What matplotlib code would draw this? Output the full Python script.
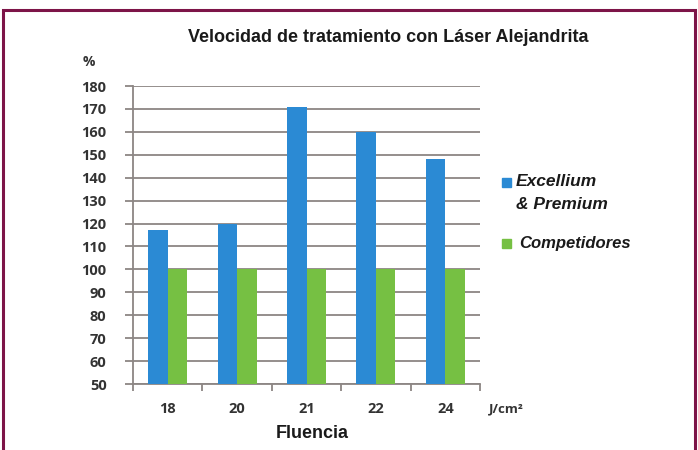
import matplotlib.pyplot as plt
from matplotlib.patches import Rectangle

# Datos
fluencias = ['18', '20', '21', '22', '24']
excellium = [117, 120, 171, 160, 148]
competidores = [100, 100, 100, 100, 100]

azul = '#2b8ad4'
verde = '#76c043'
granate = '#7d1448'
gris = '#8c8684'

fig = plt.figure(figsize=(6.98, 4.5), dpi=100)
fig.patch.set_facecolor('white')

# marco granate
fig.patches.append(Rectangle((3 / 698, -0.05), 692 / 698, 1 - 10 / 450 + 0.05,
                             transform=fig.transFigure, fill=False,
                             edgecolor=granate, linewidth=2.2))

ax = fig.add_axes([133 / 698, 1 - 384 / 450, (480 - 133) / 698, (384 - 86) / 450])

x = list(range(len(fluencias)))
ancho = 0.28
ax.bar([i - ancho / 2 for i in x], excellium, width=ancho, color=azul, zorder=3)
ax.bar([i + ancho / 2 for i in x], competidores, width=ancho, color=verde, zorder=3)

ax.set_xlim(-0.5, len(fluencias) - 0.5)
ax.set_ylim(50, 180)
ax.set_yticks(range(50, 181, 10))
ax.yaxis.grid(True, color=gris, linewidth=1.3, zorder=1)
ax.tick_params(axis='y', length=6, width=1.3, color=gris, pad=13,
               labelsize=10.5, labelcolor='#333333')
for lbl in ax.get_yticklabels():
    lbl.set_fontweight('bold')
    lbl.set_family('Open Sans')

# ticks del eje x entre categorías
ax.set_xticks([i - 0.5 for i in range(len(fluencias) + 1)])
ax.set_xticklabels([])
ax.tick_params(axis='x', length=5, width=1.3, color=gris)
for i, f in enumerate(fluencias):
    ax.text(i, -0.085, f, transform=ax.get_xaxis_transform(), ha='center', va='center',
            fontsize=10.5, fontweight='bold', color='#333333', family='Open Sans')
ax.text(1.075, -0.085, 'J/cm²', transform=ax.transAxes, ha='center', va='center',
        fontsize=9.5, fontweight='bold', color='#333333', family='Open Sans')

for s in ['top', 'right']:
    ax.spines[s].set_visible(False)
ax.spines['left'].set_color(gris)
ax.spines['left'].set_linewidth(1.3)
ax.spines['bottom'].set_color(gris)
ax.spines['bottom'].set_linewidth(1.3)

# textos
fig.text(388 / 698, 1 - 38 / 450, 'Velocidad de tratamiento con Láser Alejandrita',
         ha='center', va='center', fontsize=13, fontweight='bold',
         family='Liberation Sans', color='#1a1a1a')
fig.text(89 / 698, 1 - 62 / 450, '%', ha='center', va='center', fontsize=10,
         fontweight='bold', color='#333333', family='Open Sans')
fig.text(312 / 698, 1 - 434 / 450, 'Fluencia', ha='center', va='center',
         fontsize=13, fontweight='bold', family='Liberation Sans', color='#1a1a1a')

# leyenda manual
fig.patches.append(Rectangle((502 / 698, 1 - 187 / 450), 9 / 698, 9 / 450,
                             transform=fig.transFigure, color=azul))
fig.text(516 / 698, 1 - 182 / 450, 'Excellium', ha='left', va='center', fontsize=12.5,
         fontweight='bold', style='italic', family='Liberation Sans', color='#1a1a1a')
fig.text(516 / 698, 1 - 204 / 450, '& Premium', ha='left', va='center', fontsize=12.5,
         fontweight='bold', style='italic', family='Liberation Sans', color='#1a1a1a')
fig.patches.append(Rectangle((502 / 698, 1 - 248 / 450), 9 / 698, 9 / 450,
                             transform=fig.transFigure, color=verde))
fig.text(519 / 698, 1 - 243 / 450, 'Competidores', ha='left', va='center', fontsize=12,
         fontweight='bold', style='italic', family='Liberation Sans', color='#1a1a1a')

fig.savefig('out.png', dpi=100)
